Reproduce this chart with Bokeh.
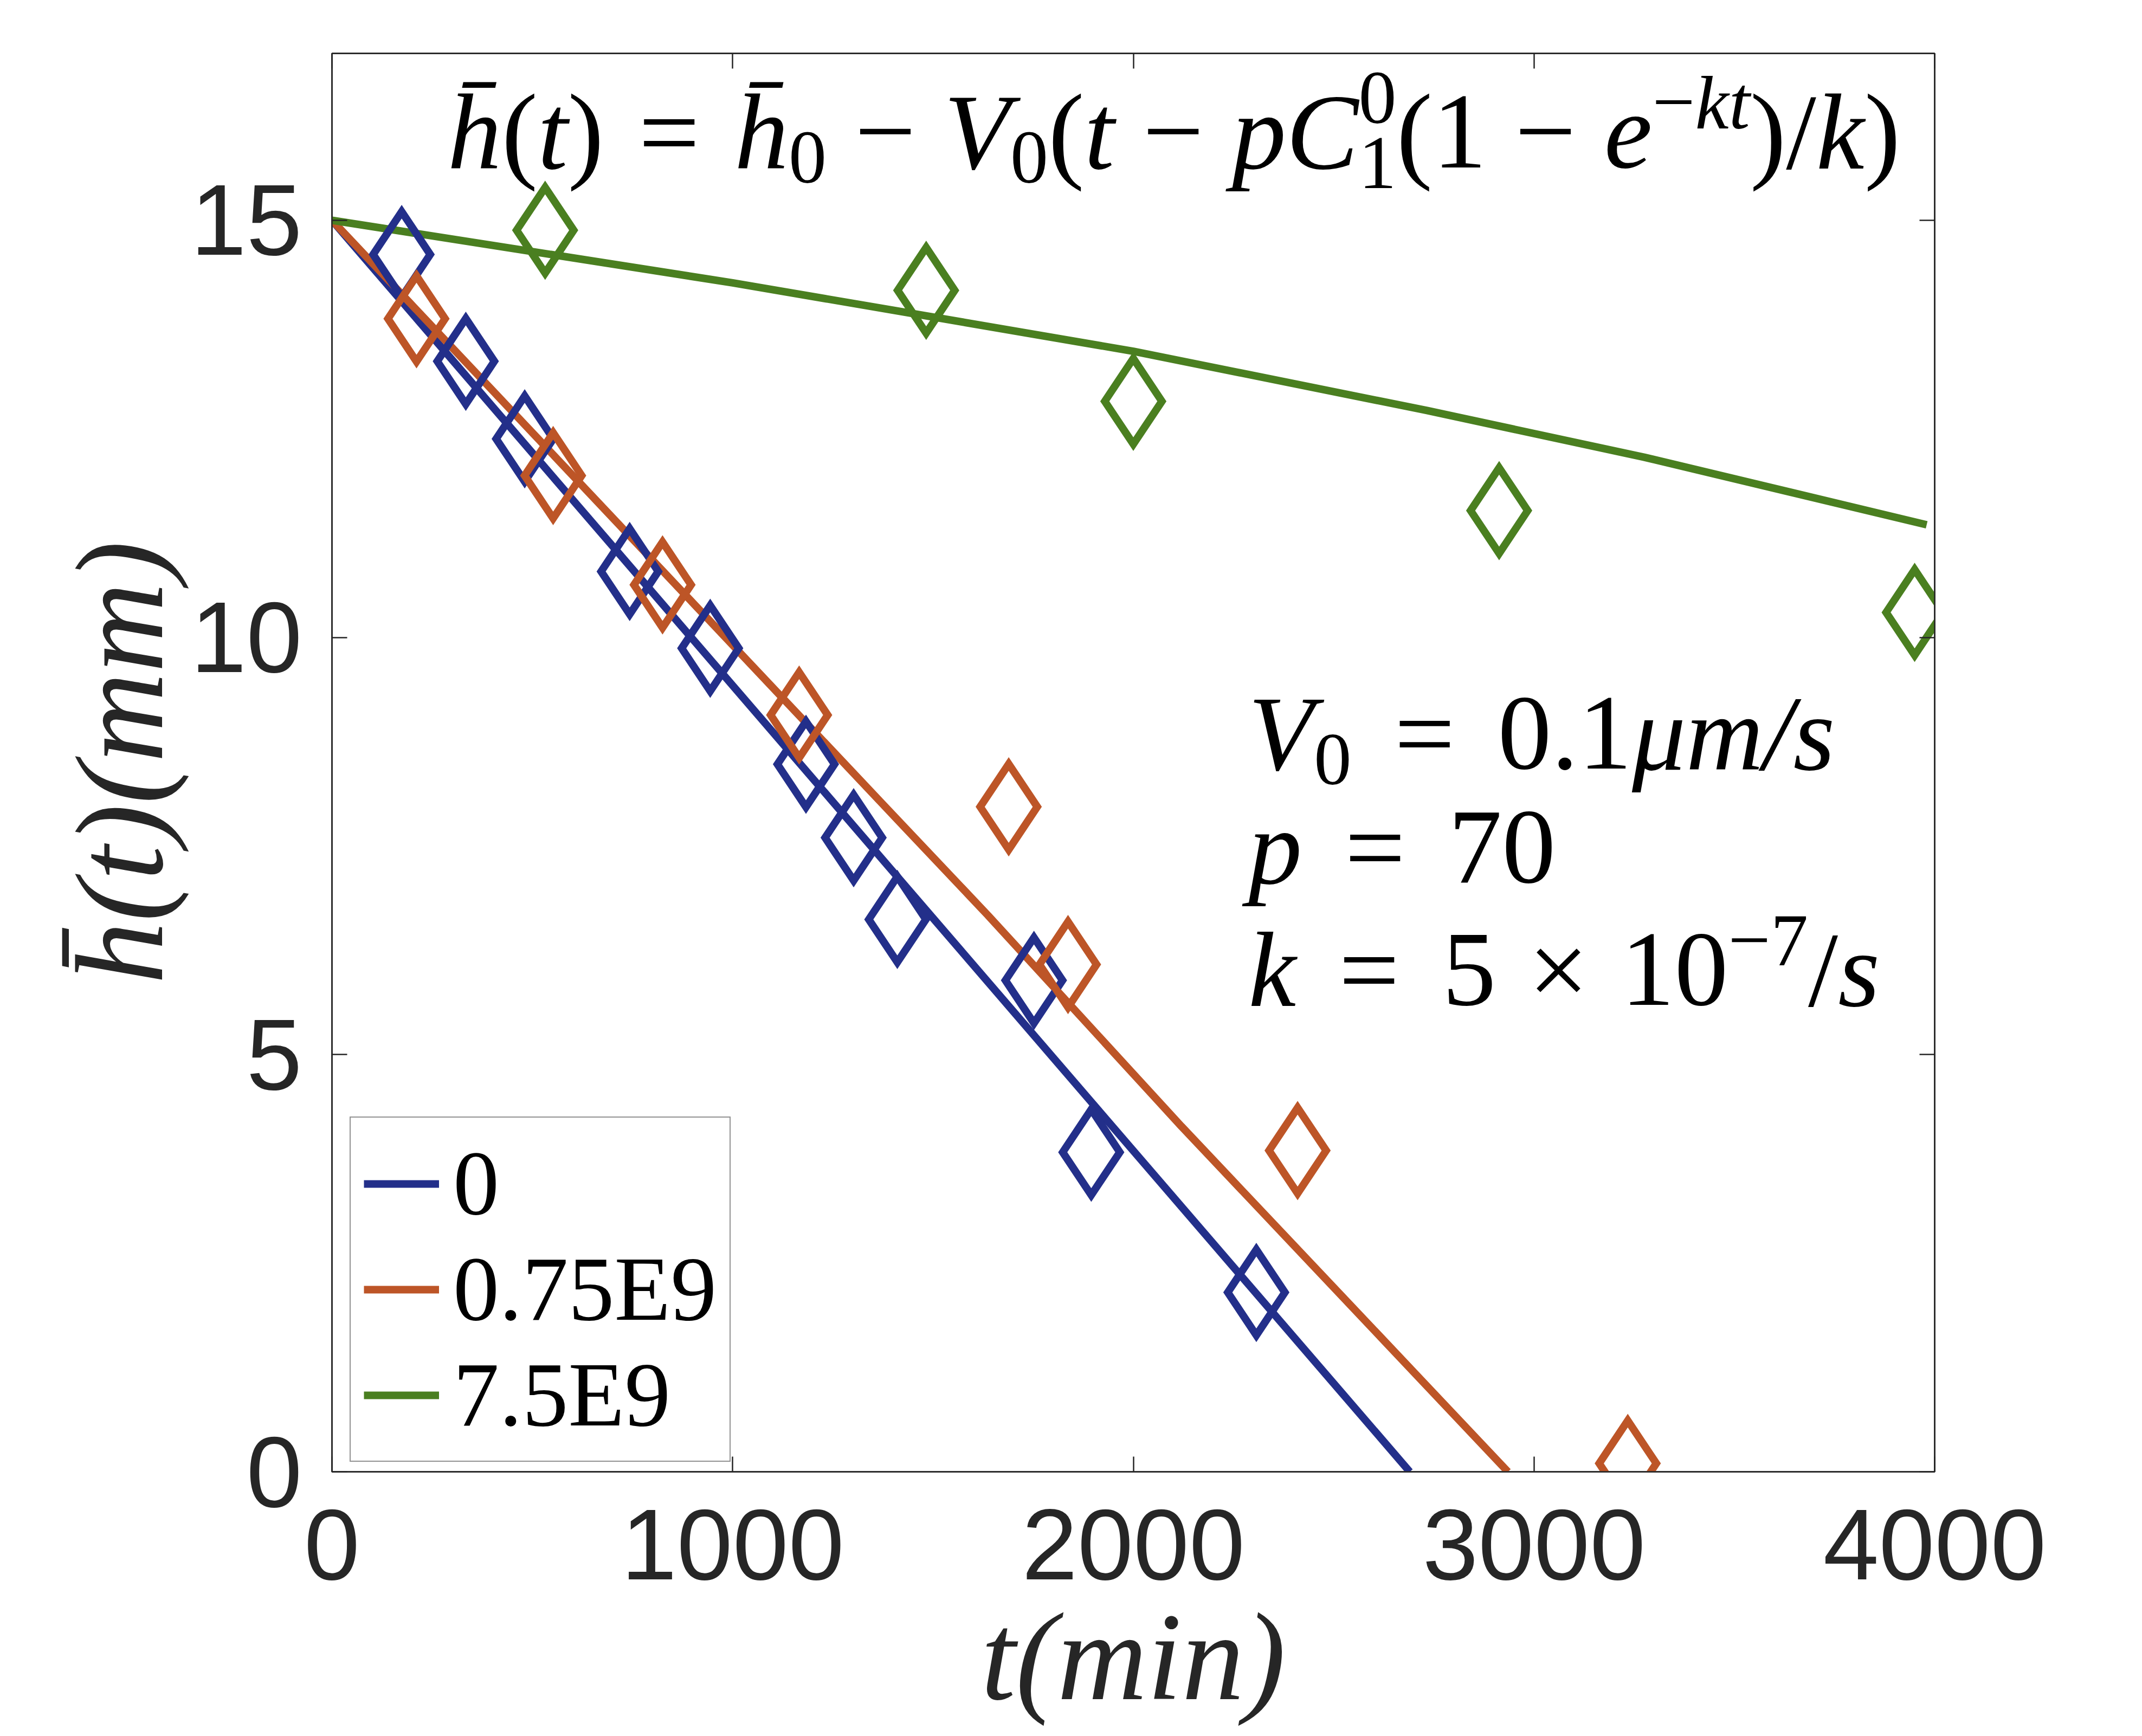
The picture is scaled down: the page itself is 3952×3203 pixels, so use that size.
from bokeh.plotting import figure
from bokeh.models import (Range1d, LinearAxis, Legend, LegendItem, Label,
                          FixedTicker, CustomJSTickFormatter)
from bokeh.embed import file_html
from bokeh.resources import INLINE

# ---------------- data ----------------
x_ticks = [0, 1000, 2000, 3000, 4000]
y_ticks = [0, 5, 10, 15]

series_names = ["0", "0.75E9", "7.5E9"]

# fitted model curves
t_fit0 = [0, 2690]
h_fit0 = [15.0, 0.0]
t_fit1 = [0, 1367, 1637, 2120, 2935]
h_fit1 = [15.0, 8.04, 6.67, 4.14, 0.0]
t_fit2 = [0, 1000, 2000, 2733, 3275, 3980]
h_fit2 = [15.0, 14.25, 13.43, 12.72, 12.16, 11.35]

# measured points
t_obs0 = [174, 334, 481, 743, 944, 1183, 1302, 1411, 1752, 1895, 2307]
h_obs0 = [14.59, 13.31, 12.38, 10.79, 9.87, 8.48, 7.60, 6.62, 5.89, 3.83, 2.15]
t_obs1 = [211, 552, 825, 1166, 1689, 1837, 2410, 3234]
h_obs1 = [13.82, 11.94, 10.63, 9.07, 7.97, 6.08, 3.85, 0.10]
t_obs2 = [532, 1483, 2000, 2913, 3950]
h_obs2 = [14.88, 14.16, 12.83, 11.52, 10.30]

colors = ["#232f8a", "#bd5527", "#4a7f20"]
AX = "#262626"

# ---------------- math-like text helper ----------------
# advance widths (em) of Liberation Serif (Times metrics)
W_N = {'0': .5, '1': .5, '2': .5, '3': .5, '4': .5, '5': .5, '6': .5, '7': .5, '8': .5, '9': .5,
       '(': .333, ')': .333, '=': .564, '\u2212': .564, '\u00d7': .564, '.': .25, '/': .278, ' ': .25}
W_I = {'h': .5, 't': .278, 'V': .611, 'p': .5, 'C': .667, 'e': .444, 'k': .444, 'm': .722,
       's': .389, '\u03bc': .5, '/': .278, 'i': .278, 'n': .5, '\u0304': 0.0}


def seg_width(text, style):
    tab = W_I if style == "italic" else W_N
    return sum(tab.get(ch, W_N.get(ch, .5)) for ch in text)


def T(text, style="normal"):
    return dict(text=text, style=style, scale=1.0, rise=0.0, advance=True)


def G(em):
    return dict(gap=em)


def SUB(text, rise=-0.15, advance=True):
    return dict(text=text, style="normal", scale=0.7, rise=rise, advance=advance)


def SUP(text, style="normal", rise=0.36):
    return dict(text=text, style=style, scale=0.7, rise=rise, advance=True)


BASE_CORR = 0.30  # Bokeh places the alphabetic baseline slightly low


def math_text(p, segs, x, y, size):
    off = 0.0
    last_w = 0.0
    for s in segs:
        if "gap" in s:
            off += s["gap"] * size
            continue
        fs = size * s["scale"]
        w = seg_width(s["text"], s["style"]) * fs
        p.add_layout(Label(x=x, y=y, x_offset=off, y_offset=s["rise"] * size + BASE_CORR * fs,
                           text=s["text"], text_align="left", text_baseline="alphabetic",
                           text_font="Liberation Serif", text_font_style=s["style"],
                           text_font_size=f"{fs:.1f}px", text_color="black"))
        if s["advance"]:
            off += max(w, last_w) if last_w else w
            last_w = 0.0
        else:
            last_w = w


GE, GM = 0.32, 0.26
formula = [
    T("h\u0304", "italic"), T("("), T("t", "italic"), T(")"), G(GE), T("="), G(GE),
    T("h\u0304", "italic"), SUB("0"), G(GM), T("\u2212"), G(GM),
    T("V", "italic"), SUB("0"), T("("), T("t", "italic"), G(GM), T("\u2212"), G(GM),
    T("pC", "italic"), SUB("1", rise=-0.2, advance=False), SUP("0", rise=0.4),
    T("("), T("1"), G(GM), T("\u2212"), G(GM),
    T("e", "italic"), SUP("\u2212"), SUP("kt", "italic"), T(")"), T("/"), T("k", "italic"), T(")"),
]
PE, PM = 0.40, 0.30
param_line1 = [T("V", "italic"), SUB("0"), G(PE), T("="), G(PE), T("0.1"), T("\u03bcm/s", "italic")]
param_line2 = [T("p", "italic"), G(PE), T("="), G(PE), T("70")]
param_line3 = [T("k", "italic"), G(PE), T("="), G(PE), T("5"), G(PM), T("\u00d7"), G(PM),
               T("10"), SUP("\u22127"), T("/"), T("s", "italic")]

# ---------------- figure ----------------
p = figure(width=3936, height=3187,
           x_range=Range1d(0, 4000), y_range=Range1d(0, 17),
           output_backend="svg", toolbar_location=None,
           min_border_left=612, min_border_right=367,
           min_border_top=98, min_border_bottom=471)
p.xgrid.visible = False
p.ygrid.visible = False
p.background_fill_color = "white"
p.border_fill_color = "white"
p.outline_line_color = AX
p.outline_line_width = 2.5

lw = 14
line_renderers = []
for tx, hy, c in [(t_fit0, h_fit0, colors[0]), (t_fit1, h_fit1, colors[1]), (t_fit2, h_fit2, colors[2])]:
    r = p.line(tx, hy, line_color=c, line_width=lw)
    line_renderers.append(r)

for tx, hy, c in [(t_obs0, h_obs0, colors[0]), (t_obs1, h_obs1, colors[1]), (t_obs2, h_obs2, colors[2])]:
    p.scatter(tx, hy, marker="diamond", size=158, fill_color=None,
              line_color=c, line_width=lw, line_join="miter")

# ---------------- axes ----------------
xa = p.xaxis[0]
ya = p.yaxis[0]
xa.ticker = FixedTicker(ticks=x_ticks)
ya.ticker = FixedTicker(ticks=y_ticks)
for ax in (xa, ya):
    ax.major_tick_in = 28
    ax.major_tick_out = 0
    ax.minor_tick_in = 0
    ax.minor_tick_out = 0
    ax.axis_line_color = AX
    ax.axis_line_width = 2.5
    ax.major_tick_line_color = AX
    ax.major_tick_line_width = 2.5
    ax.major_label_text_font = "Liberation Sans"
    ax.major_label_text_font_size = "185px"
    ax.major_label_text_color = AX
    ax.axis_label_text_font = "Liberation Serif"
    ax.axis_label_text_font_style = "italic"
    ax.axis_label_text_font_size = "230px"
    ax.axis_label_text_color = AX
xa.major_label_standoff = 70
ya.major_label_standoff = 55
xa.axis_label = "t(min)"
ya.axis_label = "h\u0304(t)(mm)"
xa.axis_label_standoff = 13
ya.axis_label_standoff = 0

blank = CustomJSTickFormatter(code="return ''")
top_ax = LinearAxis(ticker=FixedTicker(ticks=x_ticks), formatter=blank)
right_ax = LinearAxis(ticker=FixedTicker(ticks=y_ticks), formatter=blank)
for ax in (top_ax, right_ax):
    ax.major_tick_in = 28
    ax.major_tick_out = 0
    ax.minor_tick_in = 0
    ax.minor_tick_out = 0
    ax.axis_line_color = AX
    ax.axis_line_width = 2.5
    ax.major_tick_line_color = AX
    ax.major_tick_line_width = 2.5
    ax.major_label_text_font_size = "1px"
    ax.major_label_standoff = 0
p.add_layout(top_ax, "above")
p.add_layout(right_ax, "right")

# ---------------- texts ----------------
math_text(p, formula, 288, 15.67, 200)
math_text(p, param_line1, 2287, 8.46, 198)
math_text(p, param_line2, 2287, 7.10, 198)
math_text(p, param_line3, 2287, 5.63, 198)

# ---------------- legend ----------------
legend = Legend(items=[LegendItem(label=n, renderers=[r]) for n, r in zip(series_names, line_renderers)],
                location=(33, 18))
legend.margin = 0
legend.padding = 24
legend.spacing = 0
legend.glyph_width = 139
legend.glyph_height = 190
legend.label_height = 190
legend.label_standoff = 26
legend.label_text_font = "Liberation Serif"
legend.label_text_font_size = "170px"
legend.label_text_color = "black"
legend.border_line_color = AX
legend.border_line_width = 2.5
legend.background_fill_color = "white"
legend.background_fill_alpha = 1.0
p.add_layout(legend, "center")

open("out.html", "w").write(file_html(p, INLINE))
